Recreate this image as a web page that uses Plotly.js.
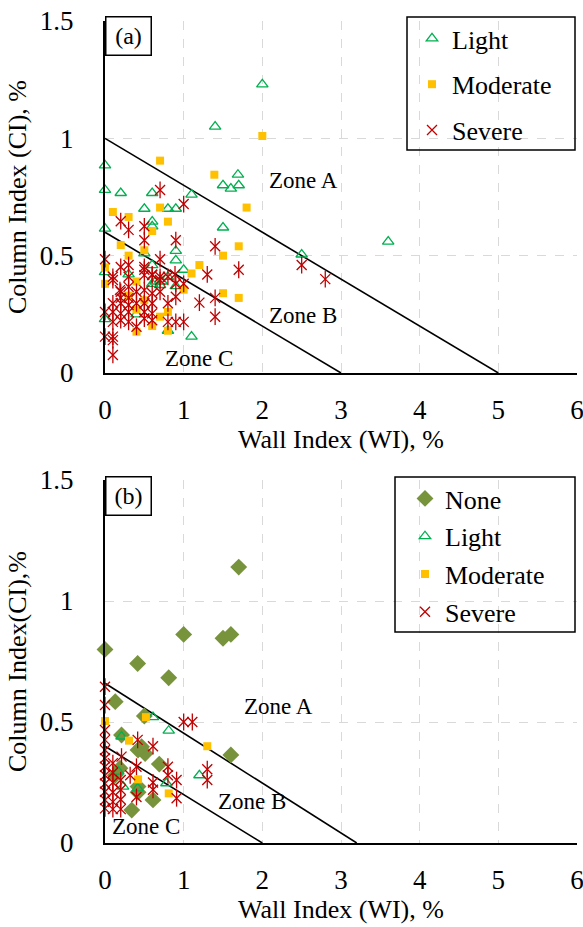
<!DOCTYPE html>
<html><head><meta charset="utf-8">
<script src="https://cdn.plot.ly/plotly-3.0.1.min.js"></script>
<style>html,body{margin:0;padding:0;background:#fff}#chart{width:583px;height:927px}</style>
</head><body><div id="chart"></div>
<script>
// ---------- Panel (a) ----------
const lightA_x = [2.0,1.4,1.69,1.5,1.6,1.7,1.1,1.5,3.6,2.5,1.0,0,0,0.2,0.6,0.5,0.8,0.9,0,0.6,0.6,0.9,0.9,0.6,0.5,0,0.8,0.3,0.7,0.6,0.9,0,0.4,0.8,1.1,0.64,0.72];
const lightA_y = [1.23,1.05,0.845,0.80,0.786,0.80,0.76,0.62,0.56,0.505,0.44,0.885,0.78,0.767,0.767,0.70,0.70,0.70,0.615,0.645,0.625,0.52,0.48,0.46,0.51,0.43,0.41,0.42,0.375,0.38,0.37,0.23,0.25,0.18,0.155,0.39,0.39];
const modA_x = [2.0,1.39,1.8,1.7,1.5,1.2,1.1,1.5,1.7,1.0,0.7,0.1,0.3,0.7,0.8,0.6,0.2,0.5,0.3,0,0.4,0.3,0.5,0.7,0.6,0.8,0.4,0.8,0,0.4];
const modA_y = [1.01,0.845,0.705,0.54,0.50,0.46,0.424,0.34,0.32,0.355,0.905,0.686,0.665,0.705,0.645,0.605,0.545,0.523,0.50,0.38,0.39,0.33,0.31,0.24,0.20,0.18,0.176,0.26,0.45,0.27];
const sevA_x = [1.0,1.4,1.7,1.3,2.5,2.8,1.4,1.0,1.4,1.2,0.7,0.2,0.5,0.3,0.9,0.5,0,0.2,0.3,0.5,0.7,0.1,0.3,0.5,0.6,0.7,0.8,0.9,0.2,0.3,0.4,0.5,0.6,0.7,0.9,0.1,0.2,0.3,0.4,0.5,0.6,0.8,0,0.1,0.2,0.3,0.5,0.6,0.1,0.2,0.3,0.5,0.6,0.8,0.9,1.0,0.4,0,0.1,0.1,0.1,0.2,0.3,0.1,0.5,0.6,0.7,0.89,0.19];
const sevA_y = [0.72,0.54,0.44,0.42,0.46,0.40,0.32,0.38,0.24,0.30,0.78,0.647,0.625,0.61,0.566,0.566,0.485,0.452,0.46,0.452,0.485,0.41,0.41,0.417,0.417,0.41,0.41,0.38,0.346,0.367,0.346,0.353,0.34,0.346,0.325,0.297,0.297,0.29,0.297,0.297,0.297,0.297,0.26,0.26,0.254,0.26,0.26,0.254,0.218,0.225,0.218,0.232,0.225,0.218,0.218,0.218,0.197,0.155,0.155,0.14,0.077,0.32,0.32,0.396,0.44,0.42,0.396,0.42,0.353];
const zoneA1_x = [0,5], zoneA1_y = [1,0];
const zoneA2_x = [0,3], zoneA2_y = [0.6,0];

// ---------- Panel (b) ----------
const noneB_x = [1.7,1.0,1.5,1.6,0,0.415,0.81,0.13,0.5,1.6,0.21,0.42,0.51,0.465,0.69,0.19,0.61,0.34,0.42,0.42,0.13];
const noneB_y = [1.14,0.862,0.846,0.862,0.80,0.742,0.683,0.584,0.525,0.364,0.446,0.384,0.37,0.398,0.326,0.309,0.178,0.136,0.233,0.21,0.28];
const lightB_x = [0.61,0.81,0.21,1.2,0.415,0.78,0.23,0.17];
const lightB_y = [0.52,0.464,0.44,0.28,0.226,0.247,0.233,0.295];
const modB_x = [0,0.52,0.305,1.3,0.42,0.81];
const modB_y = [0.504,0.52,0.423,0.40,0.263,0.205];
const sevB_x = [0,0,0,0,0,0,0,0,0,0,0,0,0.1,0.1,0.1,0.1,0.1,0.1,0.21,0.2,0.2,0.2,0.2,0.32,0.415,0.61,0.4,0.61,0.61,0.8,0.8,0.91,0.91,0.4,1.0,1.11,1.3,1.3];
const sevB_y = [0.646,0.57,0.467,0.426,0.384,0.35,0.315,0.28,0.246,0.212,0.178,0.143,0.33,0.29,0.25,0.21,0.17,0.14,0.357,0.26,0.22,0.18,0.14,0.28,0.426,0.40,0.315,0.25,0.22,0.315,0.28,0.26,0.185,0.19,0.50,0.50,0.305,0.26];
const zoneB1_x = [0,3.2], zoneB1_y = [0.66,0];
const zoneB2_x = [0,2], zoneB2_y = [0.4,0];

const xTicks = [0,1,2,3,4,5,6];
const yTicks = [0,0.5,1,1.5];

// ---------- styles ----------
const FONT = 'Liberation Serif';
const GREEN = '#00b050', ORANGE = '#ffc000', RED = '#c00000', OLIVE = '#77933c';

function lineTrace(x, y, xa, ya) {
  return {x, y, xaxis: xa, yaxis: ya, mode: 'lines', type: 'scatter',
    line: {color: '#000', width: 1.6}, showlegend: false, hoverinfo: 'skip'};
}
function ptTrace(x, y, xa, ya, name, symbol, color, size, lw, leg, show, group) {
  const open = symbol.indexOf('open') >= 0 || symbol.indexOf('thin') >= 0 || symbol.indexOf('line') >= 0;
  return {x, y, xaxis: xa, yaxis: ya, mode: 'markers', type: 'scatter', name,
    cliponaxis: false, legend: leg, showlegend: show, legendgroup: group,
    marker: {symbol, size, color: color, line: {color: color, width: open ? lw : 0}}};
}

const traces = [
  lineTrace(zoneA1_x, zoneA1_y, 'x', 'y'),
  lineTrace(zoneA2_x, zoneA2_y, 'x', 'y'),
  lineTrace(zoneB1_x, zoneB1_y, 'x2', 'y2'),
  lineTrace(zoneB2_x, zoneB2_y, 'x2', 'y2'),
  ptTrace(lightA_x, lightA_y, 'x', 'y', 'Light', 'triangle-up-open', GREEN, 10, 1.3, 'legend', true, 'a1'),
  ptTrace(modA_x, modA_y, 'x', 'y', 'Moderate', 'square', ORANGE, 8, 0, 'legend', true, 'a2'),
  ptTrace(sevA_x, sevA_y, 'x', 'y', 'Severe', 'x-thin-open', RED, 10, 1.3, 'legend', true, 'a3'),
  ptTrace(sevA_x, sevA_y, 'x', 'y', 'Severe', 'line-ns-open', RED, 12, 1.3, 'legend', false, 'a3'),
  ptTrace(noneB_x, noneB_y, 'x2', 'y2', 'None', 'diamond', OLIVE, 13, 0, 'legend2', true, 'b0'),
  ptTrace(lightB_x, lightB_y, 'x2', 'y2', 'Light', 'triangle-up-open', GREEN, 10, 1.3, 'legend2', true, 'b1'),
  ptTrace(modB_x, modB_y, 'x2', 'y2', 'Moderate', 'square', ORANGE, 8, 0, 'legend2', true, 'b2'),
  ptTrace(sevB_x, sevB_y, 'x2', 'y2', 'Severe', 'x-thin-open', RED, 10, 1.3, 'legend2', true, 'b3'),
  ptTrace(sevB_x, sevB_y, 'x2', 'y2', 'Severe', 'line-ns-open', RED, 12, 1.3, 'legend2', false, 'b3')
];

function xAxis(anchor, title) {
  return {anchor, domain: [0, 1], range: [0, 6], tickvals: xTicks, showgrid: true,
    gridcolor: '#d9d9d9', griddash: 'dash', gridwidth: 1, zeroline: false,
    showline: true, linecolor: '#000', linewidth: 2, ticks: '', ticklabelstandoff: 12,
    ticklabeloverflow: 'allow',
    tickfont: {family: FONT, size: 27, color: '#000'},
    title: {text: title, font: {family: FONT, size: 26, color: '#000'}, standoff: 4}};
}
function yAxis(anchor, domain, title) {
  return {anchor, domain, range: [0, 1.5], tickvals: yTicks, showgrid: true,
    gridcolor: '#d9d9d9', griddash: 'dash', gridwidth: 1, zeroline: false,
    showline: true, linecolor: '#000', linewidth: 2, ticks: '', ticklabelstandoff: 24,
    ticklabeloverflow: 'allow',
    tickfont: {family: FONT, size: 27, color: '#000'},
    title: {text: title, font: {family: FONT, size: 26, color: '#000'}, standoff: 6}};
}

const H = 822, B = 843;   // plot area height in px, bottom of panel b in px
const py = p => (B - p) / H;   // page pixel y -> paper y
const px = p => (p - 105) / 472;

const layout = {
  width: 583, height: 927,
  margin: {l: 105, r: 6, t: 21, b: 84},
  paper_bgcolor: '#fff', plot_bgcolor: '#fff',
  font: {family: FONT, color: '#000'},
  xaxis: xAxis('y', 'Wall Index (WI), %'),
  yaxis: yAxis('x', [py(373), 1], 'Column Index (CI), %'),
  xaxis2: xAxis('y2', 'Wall Index (WI), %'),
  yaxis2: yAxis('x2', [0, py(480)], 'Column Index(CI),%'),
  legend: {x: px(412), y: py(15), xanchor: 'left', yanchor: 'top', bgcolor: 'rgba(0,0,0,0)',
    borderwidth: 0, font: {family: FONT, size: 26, color: '#000'}, tracegroupgap: 9, itemwidth: 30},
  legend2: {x: px(405), y: py(475), xanchor: 'left', yanchor: 'top', bgcolor: 'rgba(0,0,0,0)',
    borderwidth: 0, font: {family: FONT, size: 26, color: '#000'}, tracegroupgap: 1, itemwidth: 30},
  shapes: [
    {type: 'rect', xref: 'paper', yref: 'paper', x0: px(407), x1: px(575), y0: py(150), y1: py(17),
      line: {color: '#000', width: 1.5}, fillcolor: 'rgba(0,0,0,0)'},
    {type: 'rect', xref: 'paper', yref: 'paper', x0: px(395), x1: px(575), y0: py(632), y1: py(477),
      line: {color: '#000', width: 1.5}, fillcolor: 'rgba(0,0,0,0)'}
  ],
  annotations: [
    {xref: 'paper', yref: 'paper', x: 0, y: py(16), xanchor: 'left', yanchor: 'top', text: '(a)',
      showarrow: false, font: {family: FONT, size: 24, color: '#000'}, bgcolor: '#fff',
      bordercolor: '#000', borderwidth: 1.5, width: 42, height: 35, borderpad: 1},
    {xref: 'paper', yref: 'paper', x: 0, y: py(476), xanchor: 'left', yanchor: 'top', text: '(b)',
      showarrow: false, font: {family: FONT, size: 24, color: '#000'}, bgcolor: '#fff',
      bordercolor: '#000', borderwidth: 1.5, width: 42, height: 35, borderpad: 1},
    {xref: 'x', yref: 'y', x: 2.52, y: 0.82, text: 'Zone A', showarrow: false, font: {family: FONT, size: 23, color: '#000'}},
    {xref: 'x', yref: 'y', x: 2.52, y: 0.245, text: 'Zone B', showarrow: false, font: {family: FONT, size: 23, color: '#000'}},
    {xref: 'x', yref: 'y', x: 1.2, y: 0.06, text: 'Zone C', showarrow: false, font: {family: FONT, size: 23, color: '#000'}},
    {xref: 'x2', yref: 'y2', x: 2.2, y: 0.566, text: 'Zone A', showarrow: false, font: {family: FONT, size: 23, color: '#000'}},
    {xref: 'x2', yref: 'y2', x: 1.87, y: 0.17, text: 'Zone B', showarrow: false, font: {family: FONT, size: 23, color: '#000'}},
    {xref: 'x2', yref: 'y2', x: 0.52, y: 0.07, text: 'Zone C', showarrow: false, font: {family: FONT, size: 23, color: '#000'}}
  ]
};

Plotly.newPlot('chart', traces, layout, {displayModeBar: false, staticPlot: true});
</script>
</body></html>
